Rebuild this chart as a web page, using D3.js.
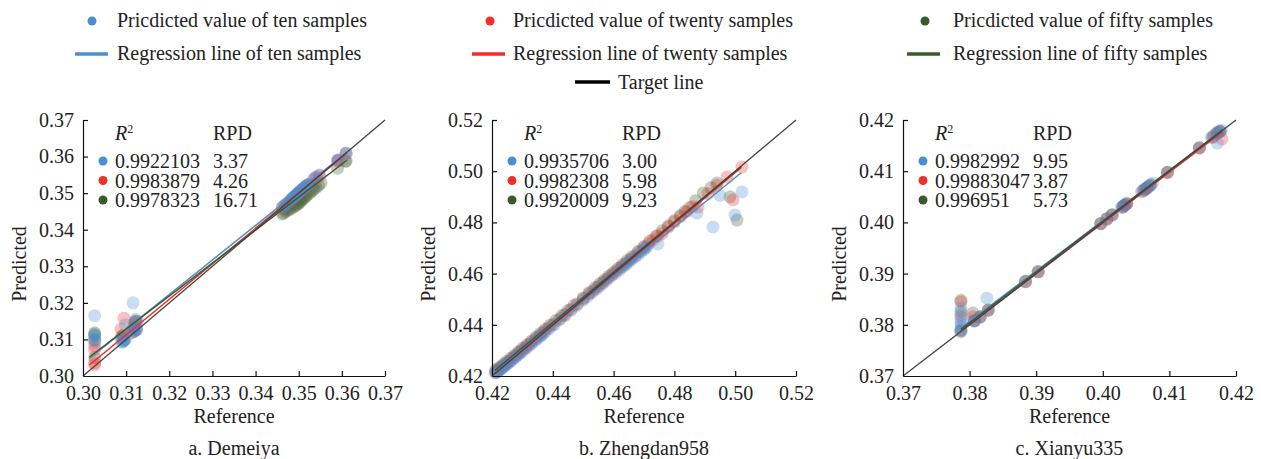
<!DOCTYPE html>
<html>
<head>
<meta charset="utf-8">
<script src="https://cdn.jsdelivr.net/npm/d3@7"></script>
<style>
body { margin: 0; background: #fff; }
text { font-family: "Liberation Serif", "Times New Roman", serif; fill: #222; }
</style>
</head>
<body>
<script>
// series names and colours
var seriesNames = ["ten", "twenty", "fifty"];
var seriesColors = ["#4a8fd0", "#ee2f2a", "#3b5a2b"];

// panel a. Demeiya  [reference, predicted]
var tenA = [[0.3027,0.3165],[0.3027,0.3115],[0.3027,0.3108],[0.3027,0.3100],[0.3027,0.3093],
	[0.3090,0.3092],[0.3092,0.3094],[0.3093,0.3095],[0.3095,0.3097],[0.3096,0.3098],[0.3098,0.3140],[0.3100,0.3102],[0.3116,0.3200],
	[0.3118,0.3122],[0.3120,0.3123],[0.3121,0.3125],[0.3123,0.3127],[0.3124,0.3128],[0.3122,0.3155],[0.3126,0.3150],
	[0.3462,0.3462],[0.3465,0.3464],[0.3468,0.3467],[0.3472,0.3471],[0.3478,0.3476],[0.3481,0.3481],[0.3483,0.3484],
	[0.3485,0.3486],[0.3487,0.3488],[0.3490,0.3491],[0.3492,0.3493],[0.3494,0.3494],[0.3496,0.3497],[0.3498,0.3499],
	[0.3500,0.3502],[0.3502,0.3504],[0.3505,0.3507],[0.3508,0.3510],[0.3511,0.3513],[0.3513,0.3516],[0.3516,0.3518],
	[0.3518,0.3520],[0.3520,0.3522],[0.3522,0.3523],[0.3524,0.3525],[0.3535,0.3540],[0.3540,0.3544],[0.3548,0.3550],
	[0.3590,0.3590],[0.3592,0.3591],[0.3609,0.3610],[0.3610,0.3610]];
var twentyA = [[0.3027,0.3030],[0.3027,0.3036],[0.3027,0.3072],[0.3027,0.3082],
	[0.3088,0.3128],[0.3095,0.3158],[0.3092,0.3110],[0.3112,0.3118],[0.3118,0.3135],[0.3122,0.3150],[0.3125,0.3127],
	[0.3462,0.3460],[0.3470,0.3468],[0.3475,0.3473],[0.3480,0.3478],[0.3485,0.3483],[0.3492,0.3491],[0.3496,0.3496],
	[0.3500,0.3500],[0.3503,0.3504],[0.3507,0.3508],[0.3511,0.3511],[0.3515,0.3515],[0.3518,0.3519],[0.3522,0.3522],
	[0.3535,0.3537],[0.3542,0.3543],[0.3548,0.3548],[0.3590,0.3588],[0.3592,0.3590],[0.3610,0.3608]];
var fiftyA = [[0.3027,0.3050],[0.3027,0.3098],[0.3027,0.3118],[0.3027,0.3112],
	[0.3088,0.3105],[0.3092,0.3110],[0.3095,0.3100],[0.3115,0.3130],[0.3120,0.3145],[0.3123,0.3150],[0.3118,0.3122],
	[0.3462,0.3443],[0.3465,0.3445],[0.3470,0.3450],[0.3475,0.3453],[0.3480,0.3456],[0.3485,0.3460],[0.3490,0.3464],
	[0.3494,0.3467],[0.3498,0.3470],[0.3502,0.3474],[0.3505,0.3478],[0.3508,0.3482],[0.3512,0.3486],[0.3516,0.3490],
	[0.3520,0.3495],[0.3525,0.3500],[0.3530,0.3505],[0.3535,0.3510],[0.3540,0.3515],[0.3546,0.3521],[0.3552,0.3528],
	[0.3590,0.3568],[0.3608,0.3587],[0.3610,0.3588]];
var fitA = [[0.3015,0.3048,0.3612,0.3612],[0.3015,0.3030,0.3612,0.3610],[0.3015,0.3052,0.3612,0.3590]];
var r2A = ["0.9922103", "0.9983879", "0.9978323"];
var rpdA = ["3.37", "4.26", "16.71"];
var ticksA = [0.30, 0.31, 0.32, 0.33, 0.34, 0.35, 0.36, 0.37];

// panel b. Zhengdan958
var tenB = [[0.4210,0.4212],[0.4215,0.4215],[0.4220,0.4218],[0.4225,0.4222],[0.4230,0.4228],[0.4235,0.4233],
	[0.4240,0.4237],[0.4245,0.4243],[0.4250,0.4247],[0.4255,0.4252],[0.4262,0.4258],[0.4270,0.4266],
	[0.4278,0.4274],[0.4285,0.4281],[0.4293,0.4289],[0.4300,0.4296],[0.4310,0.4306],[0.4320,0.4316],
	[0.4330,0.4326],[0.4340,0.4336],[0.4350,0.4346],[0.4360,0.4356],[0.4365,0.4361],[0.4375,0.4371],
	[0.4390,0.4386],[0.4405,0.4401],[0.4420,0.4418],[0.4440,0.4436],[0.4460,0.4456],[0.4480,0.4476],
	[0.4500,0.4496],[0.4515,0.4511],[0.4530,0.4527],[0.4545,0.4541],[0.4560,0.4556],[0.4575,0.4571],
	[0.4590,0.4587],[0.4605,0.4600],[0.4620,0.4615],[0.4630,0.4625],[0.4640,0.4635],[0.4650,0.4645],
	[0.4660,0.4655],[0.4670,0.4664],[0.4680,0.4674],[0.4690,0.4684],[0.4700,0.4694],[0.4705,0.4700],
	[0.4710,0.4705],[0.4746,0.4716],[0.4874,0.4836],[0.4927,0.4782],[0.4950,0.4905],[0.4999,0.4829],[0.5022,0.4919]];
var twentyB = [[0.4212,0.4214],[0.4218,0.4219],[0.4225,0.4226],[0.4232,0.4233],[0.4240,0.4240],[0.4250,0.4250],
	[0.4260,0.4260],[0.4270,0.4270],[0.4280,0.4280],[0.4290,0.4291],[0.4300,0.4301],[0.4310,0.4311],
	[0.4320,0.4321],[0.4330,0.4331],[0.4345,0.4346],[0.4358,0.4359],[0.4370,0.4372],[0.4385,0.4387],
	[0.4400,0.4401],[0.4425,0.4424],[0.4440,0.4440],[0.4460,0.4461],[0.4480,0.4482],[0.4500,0.4501],
	[0.4520,0.4521],[0.4535,0.4535],[0.4550,0.4549],[0.4565,0.4565],[0.4580,0.4580],[0.4595,0.4596],
	[0.4610,0.4611],[0.4625,0.4626],[0.4640,0.4640],[0.4655,0.4655],[0.4670,0.4670],[0.4685,0.4686],
	[0.4700,0.4702],[0.4715,0.4717],[0.4730,0.4732],[0.4745,0.4746],[0.4760,0.4757],[0.4780,0.4781],
	[0.4800,0.4802],[0.4820,0.4822],[0.4840,0.4842],[0.4860,0.4862],[0.4878,0.4860],[0.4910,0.4912],
	[0.4940,0.4945],[0.4973,0.4977],[0.4993,0.4888],[0.5022,0.5016]];
var fiftyB = [[0.4212,0.4222],[0.4220,0.4230],[0.4230,0.4238],[0.4240,0.4248],[0.4250,0.4258],[0.4262,0.4270],
	[0.4275,0.4282],[0.4288,0.4295],[0.4300,0.4308],[0.4315,0.4322],[0.4330,0.4337],[0.4345,0.4352],
	[0.4360,0.4367],[0.4375,0.4382],[0.4390,0.4398],[0.4410,0.4417],[0.4430,0.4436],[0.4450,0.4456],
	[0.4470,0.4476],[0.4500,0.4505],[0.4520,0.4526],[0.4540,0.4546],[0.4555,0.4561],[0.4570,0.4576],
	[0.4585,0.4591],[0.4600,0.4605],[0.4615,0.4621],[0.4630,0.4636],[0.4645,0.4651],[0.4660,0.4665],
	[0.4680,0.4686],[0.4700,0.4706],[0.4720,0.4727],[0.4740,0.4747],[0.4760,0.4767],[0.4780,0.4787],
	[0.4800,0.4807],[0.4820,0.4827],[0.4835,0.4843],[0.4850,0.4858],[0.4870,0.4885],[0.4895,0.4915],
	[0.4920,0.4935],[0.4940,0.4954],[0.4983,0.4900],[0.5006,0.4809]];
var fitB = [[0.4210,0.4214,0.5020,0.4994],[0.4210,0.4209,0.5020,0.5015],[0.4210,0.4222,0.5020,0.5018]];
var r2B = ["0.9935706", "0.9982308", "0.9920009"];
var rpdB = ["3.00", "5.98", "9.23"];
var ticksB = [0.42, 0.44, 0.46, 0.48, 0.50, 0.52];

// panel c. Xianyu335
var tenC = [[0.3787,0.3786],[0.3787,0.3790],[0.3787,0.3796],[0.3787,0.3802],[0.3787,0.3809],[0.3787,0.3820],[0.3787,0.3833],
	[0.3806,0.3807],[0.3808,0.3808],[0.3816,0.3815],[0.3826,0.3852],[0.3828,0.3829],[0.3884,0.3885],[0.3903,0.3904],
	[0.3997,0.3998],[0.4006,0.4007],[0.4014,0.4015],[0.4028,0.4029],[0.4030,0.4031],[0.4032,0.4033],[0.4036,0.4037],
	[0.4058,0.4060],[0.4062,0.4064],[0.4064,0.4066],[0.4068,0.4070],[0.4070,0.4072],[0.4072,0.4074],[0.4075,0.4077],
	[0.4097,0.4098],[0.4145,0.4146],[0.4163,0.4166],[0.4168,0.4172],[0.4172,0.4155],[0.4174,0.4177],[0.4176,0.4178],[0.4178,0.4180]];
var twentyC = [[0.3787,0.3790],[0.3787,0.3845],[0.3787,0.3815],[0.3805,0.3815],[0.3808,0.3808],[0.3816,0.3815],
	[0.3828,0.3828],[0.3884,0.3884],[0.3903,0.3903],[0.3997,0.3997],[0.4006,0.4006],[0.4014,0.4014],
	[0.4030,0.4030],[0.4033,0.4033],[0.4036,0.4036],[0.4060,0.4061],[0.4064,0.4065],[0.4066,0.4067],[0.4072,0.4073],
	[0.4097,0.4097],[0.4145,0.4145],[0.4165,0.4166],[0.4172,0.4176],[0.4176,0.4177],[0.4179,0.4163]];
var fiftyC = [[0.3787,0.3788],[0.3787,0.3848],[0.3787,0.3826],[0.3805,0.3823],[0.3807,0.3808],[0.3816,0.3816],
	[0.3828,0.3829],[0.3884,0.3885],[0.3903,0.3904],[0.3997,0.3998],[0.4006,0.4007],[0.4014,0.4015],
	[0.4030,0.4031],[0.4033,0.4034],[0.4036,0.4037],[0.4062,0.4063],[0.4066,0.4067],[0.4070,0.4071],[0.4097,0.4098],
	[0.4145,0.4146],[0.4166,0.4168],[0.4172,0.4174],[0.4176,0.4178]];
var fitC = [[0.3787,0.3794,0.4180,0.4180],[0.3787,0.3788,0.4180,0.4177],[0.3787,0.3791,0.4180,0.4181]];
var r2C = ["0.9982992", "0.99883047", "0.996951"];
var rpdC = ["9.95", "3.87", "5.73"];
var ticksC = [0.37, 0.38, 0.39, 0.40, 0.41, 0.42];

var panels = [
	{ left: 83, right: 385, caption: "a. Demeiya", ticks: ticksA, series: [tenA, twentyA, fiftyA], fit: fitA, r2: r2A, rpd: rpdA },
	{ left: 492, right: 796, caption: "b. Zhengdan958", ticks: ticksB, series: [tenB, twentyB, fiftyB], fit: fitB, r2: r2B, rpd: rpdB },
	{ left: 903, right: 1236, caption: "c. Xianyu335", ticks: ticksC, series: [tenC, twentyC, fiftyC], fit: fitC, r2: r2C, rpd: rpdC }
];

var plotTop = 120, plotBottom = 376;

var svg = d3.select("body")
			.append("svg")
			.attr("width", 1261)
			.attr("height", 459);

var fmt = d3.format(".2f");

var drawPanel = function(p){
	var lo = p.ticks[0], hi = p.ticks[p.ticks.length - 1];
	var x = d3.scaleLinear().domain([lo, hi]).range([p.left, p.right]);
	var y = d3.scaleLinear().domain([lo, hi]).range([plotBottom, plotTop]);
	var g = svg.append("g");

	// points: fifty first, ten on top
	[2, 1, 0].forEach(function(k){
		g.append("g").selectAll("circle")
			.data(p.series[k])
			.enter().append("circle")
			.attr("cx", function(d){ return x(d[0]); })
			.attr("cy", function(d){ return y(d[1]); })
			.attr("r", 6.5)
			.attr("fill", seriesColors[k])
			.attr("fill-opacity", 0.3);
	});

	// regression lines
	g.selectAll("line.fit")
		.data(p.fit)
		.enter().append("line")
		.attr("x1", function(d){ return x(d[0]); })
		.attr("y1", function(d){ return y(d[1]); })
		.attr("x2", function(d){ return x(d[2]); })
		.attr("y2", function(d){ return y(d[3]); })
		.attr("stroke", function(d, i){ return seriesColors[i]; })
		.attr("stroke-width", 1.5);

	// target line
	g.append("line")
		.attr("x1", x(lo)).attr("y1", y(lo))
		.attr("x2", x(hi)).attr("y2", y(hi))
		.attr("stroke", "#444")
		.attr("stroke-width", 1.3);

	// axes, ticks pointing inward
	var xAxis = d3.axisBottom(x).tickValues(p.ticks).tickFormat(fmt).tickSizeInner(-5).tickSizeOuter(0).tickPadding(10);
	var yAxis = d3.axisLeft(y).tickValues(p.ticks).tickFormat(fmt).tickSizeInner(-5).tickSizeOuter(0).tickPadding(9);

	var gx = g.append("g").attr("transform", "translate(0," + plotBottom + ")").call(xAxis);
	var gy = g.append("g").attr("transform", "translate(" + p.left + ",0)").call(yAxis);
	[gx, gy].forEach(function(a){
		a.selectAll("path, line").attr("stroke", "#111").attr("stroke-width", 1.2);
		a.selectAll("text").attr("font-size", 20).attr("font-family", "Liberation Serif").attr("fill", "#222");
	});
	gx.selectAll(".tick").filter(function(d, i){ return i === 0; }).select("line").remove();
	gy.selectAll(".tick").filter(function(d, i){ return i === 0; }).select("line").remove();

	var mid = (p.left + p.right) / 2;
	g.append("text")
		.attr("x", mid).attr("y", 423)
		.attr("text-anchor", "middle")
		.attr("font-size", 20)
		.text("Reference");
	g.append("text")
		.attr("transform", "translate(" + (p.left - 57) + ",264) rotate(-90)")
		.attr("text-anchor", "middle")
		.attr("font-size", 20)
		.text("Predicted");
	g.append("text")
		.attr("x", mid).attr("y", 455)
		.attr("text-anchor", "middle")
		.attr("font-size", 20)
		.text(p.caption);

	// statistics block
	var hdr = g.append("text")
		.attr("x", p.left + 32).attr("y", 140)
		.attr("font-size", 20);
	hdr.append("tspan").attr("font-style", "italic").text("R");
	hdr.append("tspan").attr("dy", -7).attr("font-size", 12).text("2");
	g.append("text")
		.attr("x", p.left + 130).attr("y", 140)
		.attr("font-size", 20)
		.text("RPD");

	p.r2.forEach(function(v, i){
		var by = 168 + i * 19.5;
		g.append("circle")
			.attr("cx", p.left + 20).attr("cy", by - 7)
			.attr("r", 4.5)
			.attr("fill", seriesColors[i]);
		g.append("text")
			.attr("x", p.left + 32).attr("y", by)
			.attr("font-size", 20)
			.text(v);
		g.append("text")
			.attr("x", p.left + 130).attr("y", by)
			.attr("font-size", 20)
			.text(p.rpd[i]);
	});
};

panels.forEach(drawPanel);

// top legend
var legendX = [[92, 75, 117], [490, 472, 513], [925, 907, 953]];
seriesNames.forEach(function(n, i){
	var lx = legendX[i];
	svg.append("circle")
		.attr("cx", lx[0]).attr("cy", 21)
		.attr("r", 4.5)
		.attr("fill", seriesColors[i]);
	svg.append("text")
		.attr("x", lx[2]).attr("y", 27)
		.attr("font-size", 20)
		.text("Pricdicted value of " + n + " samples");
	svg.append("line")
		.attr("x1", lx[1]).attr("x2", lx[1] + 33)
		.attr("y1", 54).attr("y2", 54)
		.attr("stroke", seriesColors[i])
		.attr("stroke-width", 3.5);
	svg.append("text")
		.attr("x", lx[2]).attr("y", 60)
		.attr("font-size", 20)
		.text("Regression line of " + n + " samples");
});
svg.append("line")
	.attr("x1", 575).attr("x2", 610)
	.attr("y1", 82).attr("y2", 82)
	.attr("stroke", "#000")
	.attr("stroke-width", 3.5);
svg.append("text")
	.attr("x", 618).attr("y", 89)
	.attr("font-size", 20)
	.text("Target line");
</script>
</body>
</html>
